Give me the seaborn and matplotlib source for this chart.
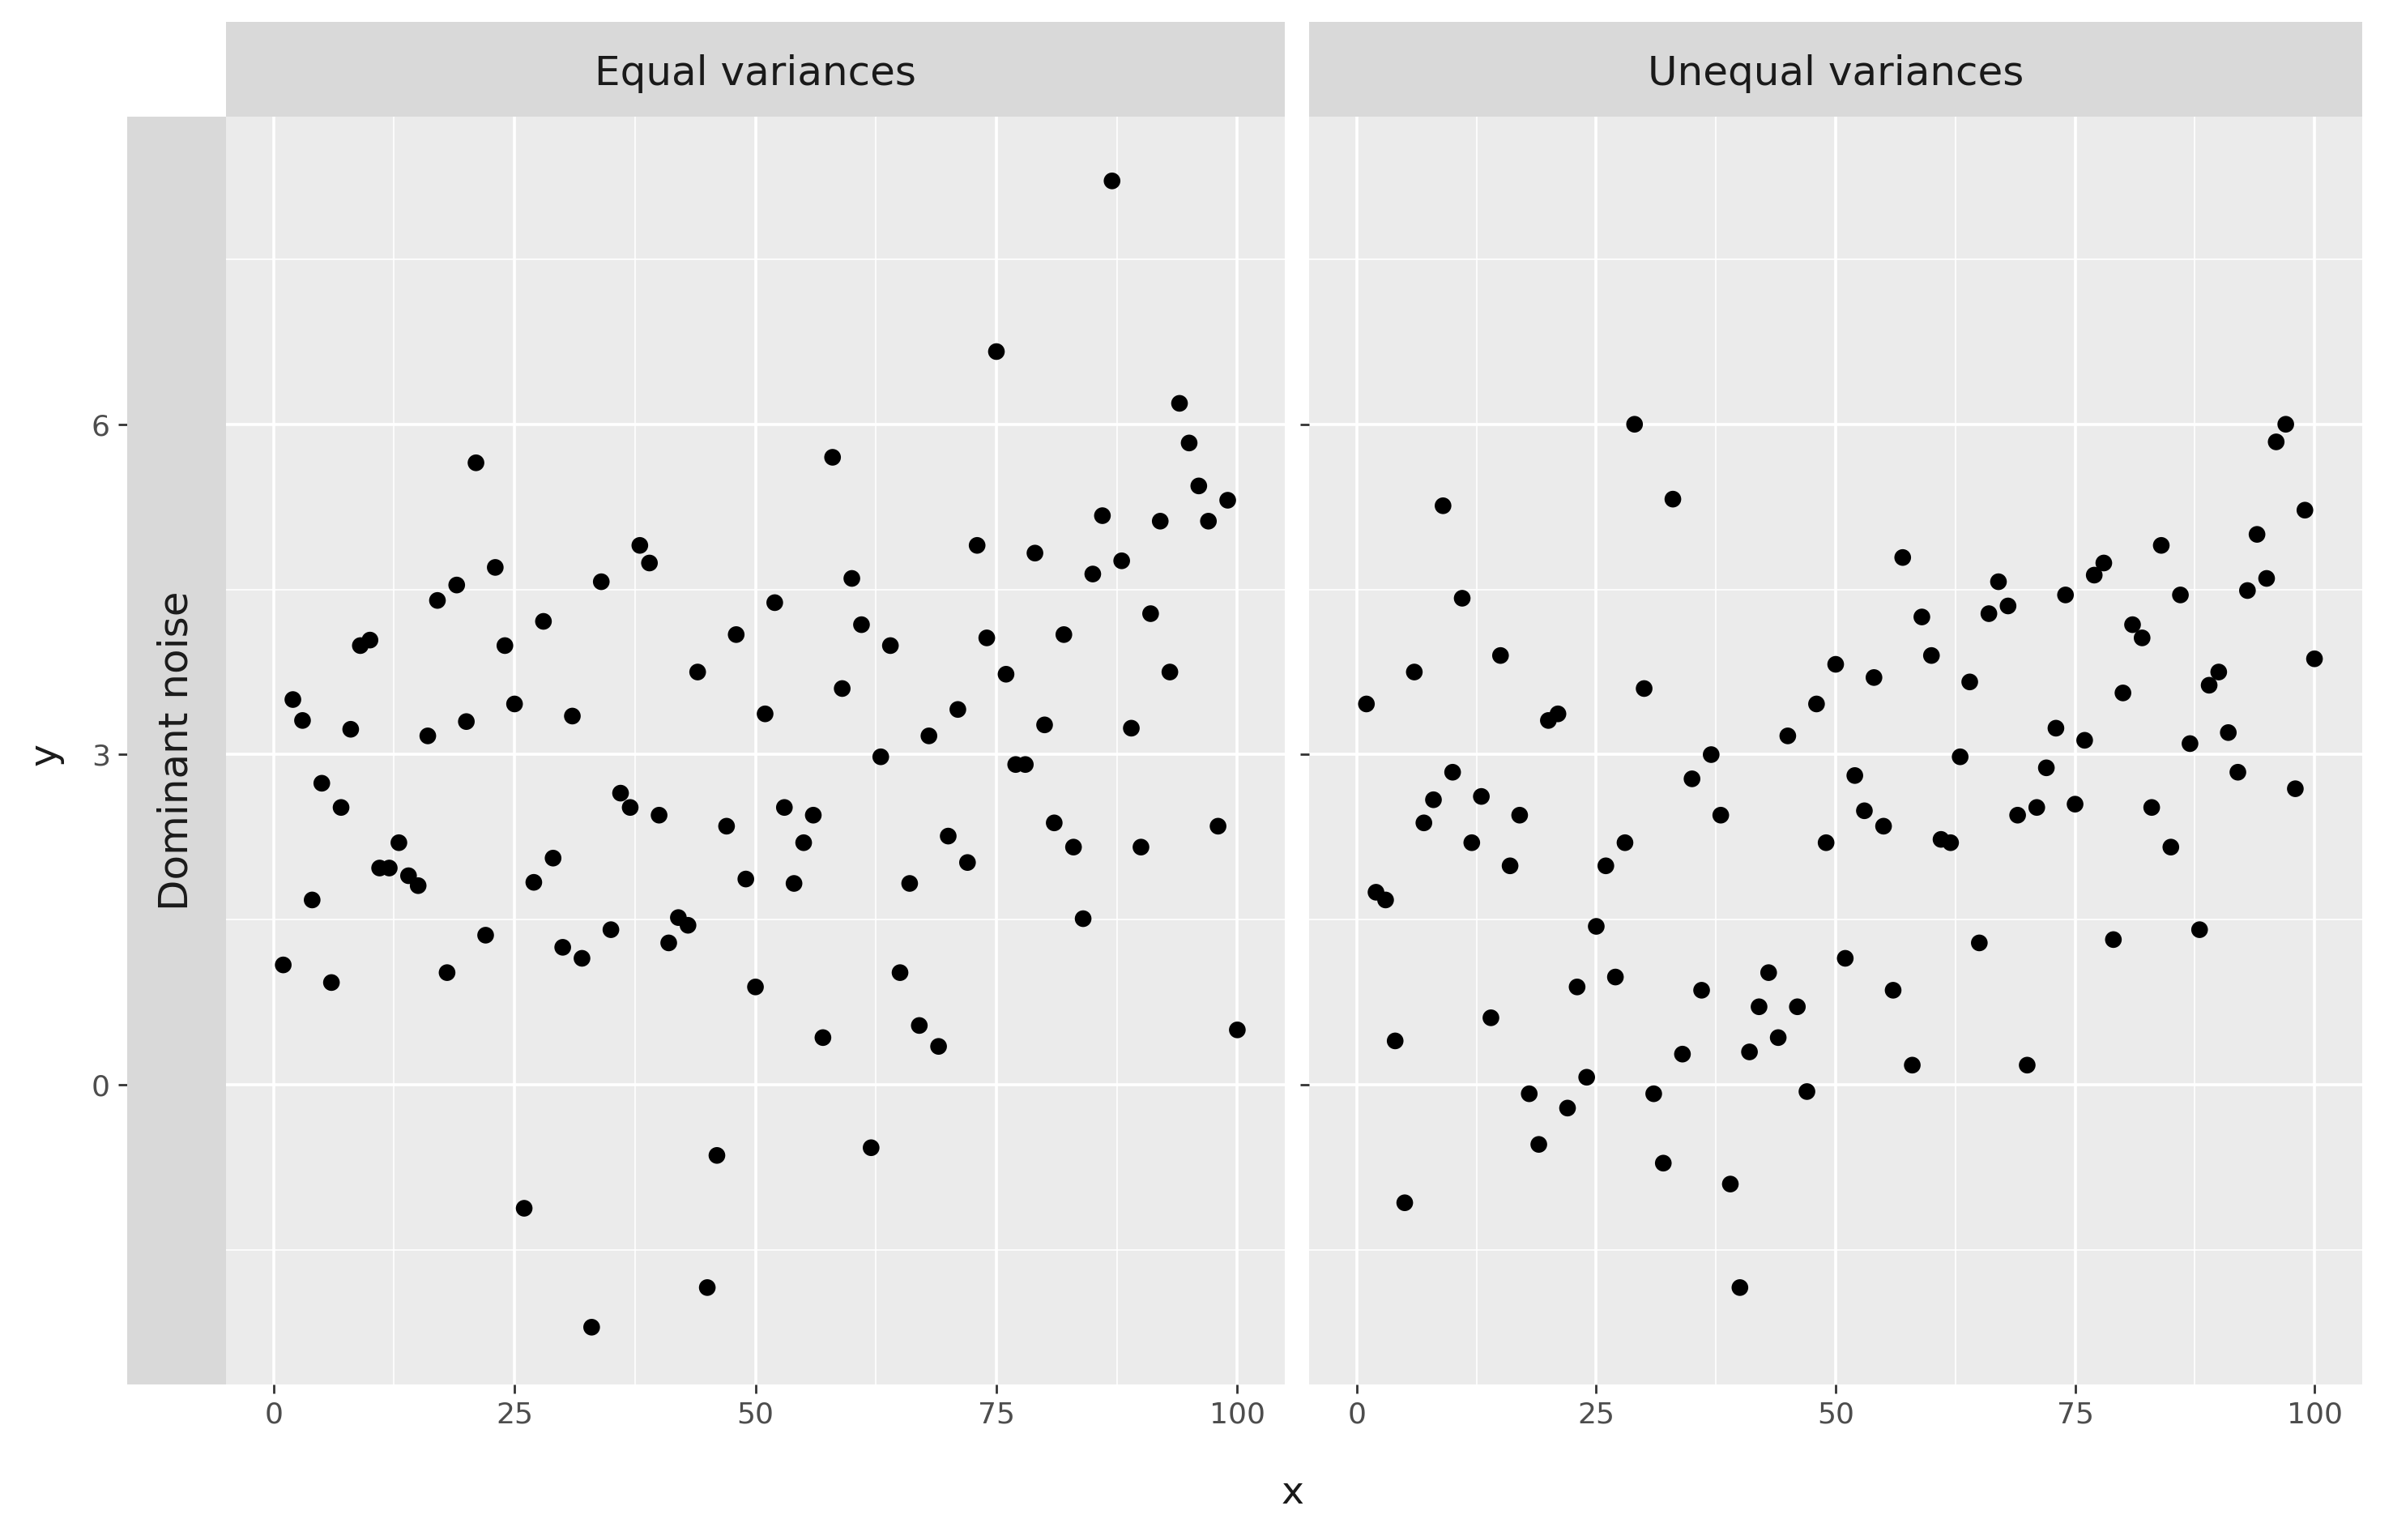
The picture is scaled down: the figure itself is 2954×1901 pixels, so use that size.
import matplotlib
matplotlib.use("Agg")
import matplotlib.pyplot as plt
import seaborn as sns
import pandas as pd

x_vals = list(range(1, 101))
y_equal = [1.09, 3.5, 3.31, 1.68, 2.74, 0.93, 2.52, 3.23, 3.99, 4.04,
           1.97, 1.97, 2.2, 1.9, 1.81, 3.17, 4.4, 1.02, 4.54, 3.3,
           5.65, 1.36, 4.7, 3.99, 3.46, -1.12, 1.84, 4.21, 2.06, 1.25,
           3.35, 1.15, -2.2, 4.57, 1.41, 2.65, 2.52, 4.9, 4.74, 2.45,
           1.29, 1.52, 1.45, 3.75, -1.84, -0.64, 2.35, 4.09, 1.87, 0.89,
           3.37, 4.38, 2.52, 1.83, 2.2, 2.45, 0.43, 5.7, 3.6, 4.6,
           4.18, -0.57, 2.98, 3.99, 1.02, 1.83, 0.54, 3.17, 0.35, 2.26,
           3.41, 2.02, 4.9, 4.06, 6.66, 3.73, 2.91, 2.91, 4.83, 3.27,
           2.38, 4.09, 2.16, 1.51, 4.64, 5.17, 8.21, 4.76, 3.24, 2.16,
           4.28, 5.12, 3.75, 6.19, 5.83, 5.44, 5.12, 2.35, 5.31, 0.5]
y_unequal = [3.46, 1.75, 1.68, 0.4, -1.07, 3.75, 2.38, 2.59, 5.26, 2.84,
             4.42, 2.2, 2.62, 0.61, 3.9, 1.99, 2.45, -0.08, -0.54, 3.31,
             3.37, -0.21, 0.89, 0.07, 1.44, 1.99, 0.98, 2.2, 6.0, 3.6,
             -0.08, -0.71, 5.32, 0.28, 2.78, 0.86, 3.0, 2.45, -0.9, -1.84,
             0.3, 0.71, 1.02, 0.43, 3.17, 0.71, -0.06, 3.46, 2.2, 3.82,
             1.15, 2.81, 2.49, 3.7, 2.35, 0.86, 4.79, 0.18, 4.25, 3.9,
             2.23, 2.2, 2.98, 3.66, 1.29, 4.28, 4.57, 4.35, 2.45, 0.18,
             2.52, 2.88, 3.24, 4.45, 2.55, 3.13, 4.63, 4.74, 1.32, 3.56,
             4.18, 4.06, 2.52, 4.9, 2.16, 4.45, 3.1, 1.41, 3.63, 3.75,
             3.2, 2.84, 4.49, 5.0, 4.6, 5.84, 6.0, 2.69, 5.22, 3.87]
panel_titles = ["Equal variances", "Unequal variances"]
row_title = "Dominant noise"

panel_bg = "#EBEBEB"
strip_bg = "#D9D9D9"
text_col = "#4D4D4D"

fig = plt.figure(figsize=(14.77, 9.505), dpi=200)
axes = [fig.add_axes([0.0944, 0.101, 0.4426, 0.823]),
        fig.add_axes([0.5472, 0.101, 0.4398, 0.823])]

for i, (ax, ys, title) in enumerate(zip(axes, [y_equal, y_unequal], panel_titles)):
    df = pd.DataFrame({"x": x_vals, "y": ys})
    ax.set_facecolor(panel_bg)
    ax.set_xlim(-4.95, 104.95)
    ax.set_ylim(-2.72, 8.79)
    ax.set_xticks([0, 25, 50, 75, 100])
    ax.set_xticks([12.5, 37.5, 62.5, 87.5], minor=True)
    ax.set_yticks([0, 3, 6])
    ax.set_yticks([-1.5, 1.5, 4.5, 7.5], minor=True)
    ax.grid(True, which="major", color="white", linewidth=1.3)
    ax.grid(True, which="minor", color="white", linewidth=0.6)
    ax.set_axisbelow(True)
    sns.scatterplot(data=df, x="x", y="y", ax=ax, color="black", s=55,
                    edgecolor="none", zorder=3)
    for s in ax.spines.values():
        s.set_visible(False)
    ax.tick_params(which="major", length=4, width=1, color="#333333",
                   labelcolor=text_col, labelsize=13)
    ax.tick_params(which="minor", length=0)
    ax.set_xlabel("")
    ax.set_ylabel("")
    if i == 0:
        # ticks sit left of the row strip, as in ggplot
        ax.spines["left"].set_position(("outward", 44))
    else:
        ax.tick_params(axis="y", labelleft=False)
    pos = ax.get_position()
    sax = fig.add_axes([pos.x0, pos.y1, pos.width, 0.062])
    sax.set_facecolor(strip_bg)
    sax.set_xticks([])
    sax.set_yticks([])
    for s in sax.spines.values():
        s.set_visible(False)
    sax.text(0.5, 0.45, title, ha="center", va="center", fontsize=18,
             color="#1A1A1A", transform=sax.transAxes)

pos = axes[0].get_position()
rax = fig.add_axes([0.053, pos.y0, pos.x0 - 0.053, pos.height])
rax.set_facecolor(strip_bg)
rax.set_xticks([])
rax.set_yticks([])
for s in rax.spines.values():
    s.set_visible(False)
rax.text(0.5, 0.5, row_title, rotation=90, ha="center", va="center",
         fontsize=18, color="#1A1A1A", transform=rax.transAxes)

fig.text(0.54, 0.03, "x", ha="center", va="center", fontsize=17, color="#1A1A1A")
fig.text(0.019, 0.51, "y", rotation=90, ha="center", va="center", fontsize=17,
         color="#1A1A1A")

fig.savefig("out.png", dpi=200, facecolor="white")
